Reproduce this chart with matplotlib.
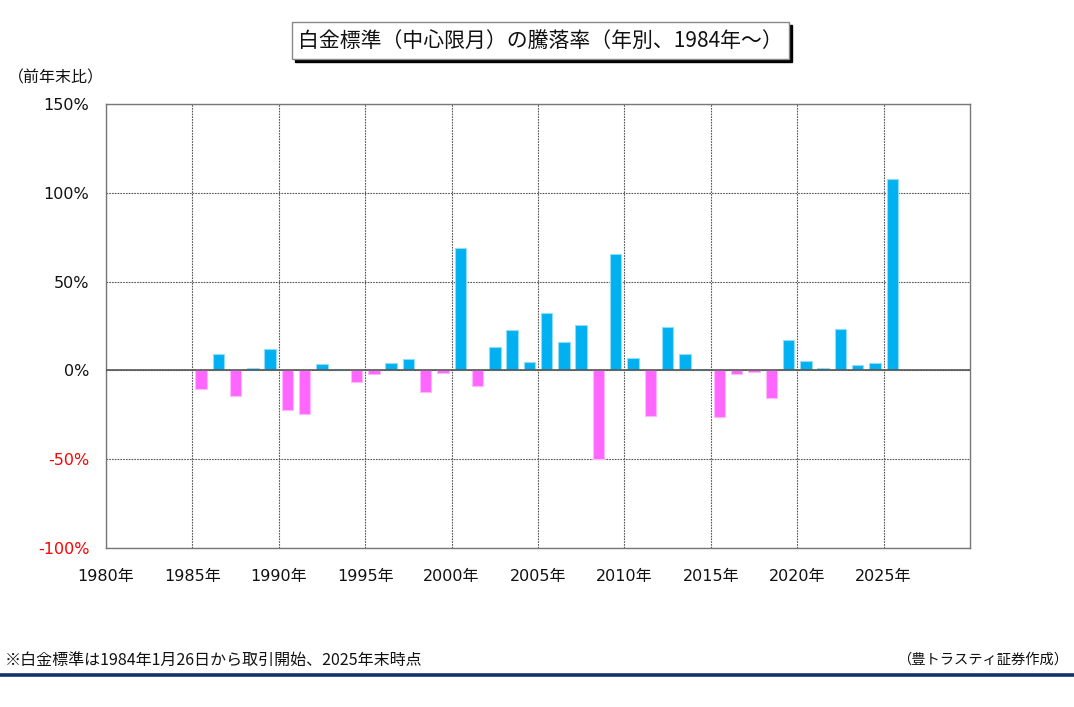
import matplotlib
matplotlib.use("Agg")
import matplotlib.pyplot as plt
from matplotlib.patches import Rectangle
from matplotlib.lines import Line2D
from matplotlib.ticker import FixedLocator

plt.rcParams['font.family'] = ['DejaVu Sans', 'Noto Sans CJK JP']

years = list(range(1985, 2026))
changes = [-10.7, 9.4, -14.6, 1.5, 12.2, -22.5, -24.4, 3.4, 0.6, -6.8,
           -2.1, 4.3, 6.2, -12.4, -1.5, 69.1, -8.6, 13.1, 22.9, 4.9,
           32.2, 15.9, 25.8, -49.8, 65.4, 6.9, -25.7, 24.2, 9.2, 0.7,
           -26.4, -2.3, -0.8, -15.4, 17.2, 5.1, 1.5, 23.1, 2.8, 3.9,
           107.7]
x_ticks = list(range(1980, 2030, 5))
x_labels = [f"{y}年" for y in x_ticks]
y_ticks = [-100, -50, 0, 50, 100, 150]
y_labels = [f"{v}%" for v in y_ticks]

title = "白金標準（中心限月）の騰落率（年別、1984年～）"
unit_label = "（前年末比）"
note_left = "※白金標準は1984年1月26日から取引開始、2025年末時点"
note_right = "（豊トラスティ証券作成）"

W, H = 1074, 707
fig = plt.figure(figsize=(W / 100, H / 100), dpi=100)
ax = fig.add_axes([106 / W, 1 - 548 / H, (970 - 106) / W, (548 - 104) / H])

blue = '#00B0F0'
pink = '#FF66FF'
colors = [blue if v >= 0 else pink for v in changes]
edges = ['#8FDDF8' if v >= 0 else '#FFB8FF' for v in changes]
ax.bar([y + 0.5 for y in years], changes, width=0.66, color=colors,
       edgecolor=edges, linewidth=0.8, zorder=3)

ax.set_xlim(1980, 2030)
ax.set_ylim(-100, 150)
ax.xaxis.set_major_locator(FixedLocator(x_ticks))
ax.set_xticklabels(x_labels, fontsize=11.5, color='#111111')
ax.yaxis.set_major_locator(FixedLocator(y_ticks))
ax.set_yticklabels(y_labels, fontsize=11.5)
for lab, v in zip(ax.get_yticklabels(), y_ticks):
    lab.set_color('#FF0000' if v < 0 else '#111111')
ax.tick_params(axis='both', length=0)
ax.tick_params(axis='y', pad=12)
ax.tick_params(axis='x', pad=15)

ax.grid(True, linestyle=(0, (1.5, 1.0)), color='#555555', linewidth=0.8, zorder=1)
ax.axhline(0, color='#555555', linewidth=1.2, zorder=4)
for s in ax.spines.values():
    s.set_color('#777777')
    s.set_linewidth(1.0)

# title box with shadow
bx0, by0, bx1, by1 = 292, 22, 789, 59
fig.patches.append(Rectangle(((bx0 + 3) / W, 1 - (by1 + 3) / H), (bx1 - bx0) / W, (by1 - by0) / H,
                             transform=fig.transFigure, facecolor='black', edgecolor='black', zorder=1))
fig.patches.append(Rectangle((bx0 / W, 1 - by1 / H), (bx1 - bx0) / W, (by1 - by0) / H,
                             transform=fig.transFigure, facecolor='white', edgecolor='#888888',
                             linewidth=1.0, zorder=2))
fig.text((bx0 + bx1) / 2 / W, 1 - 41 / H, title, ha='center', va='center', fontsize=15,
         family=['Noto Sans CJK JP', 'DejaVu Sans'], color='#111111', zorder=3)

fig.text(8 / W, 1 - 78 / H, unit_label, ha='left', va='center', fontsize=11.5,
         family=['Noto Sans CJK JP', 'DejaVu Sans'], color='#111111')

fig.text(5 / W, 1 - 660 / H, note_left, ha='left', va='center', fontsize=11.5,
         family=['Noto Sans CJK JP', 'DejaVu Sans'], color='#111111')
fig.text(1068 / W, 1 - 660 / H, note_right, ha='right', va='center', fontsize=10.3,
         family=['Noto Sans CJK JP', 'DejaVu Sans'], color='#111111')

fig.lines.append(Line2D([0, 1], [1 - 675 / H, 1 - 675 / H], transform=fig.transFigure,
                        color='#17336E', linewidth=2.6))

fig.savefig('out.png', dpi=100)
